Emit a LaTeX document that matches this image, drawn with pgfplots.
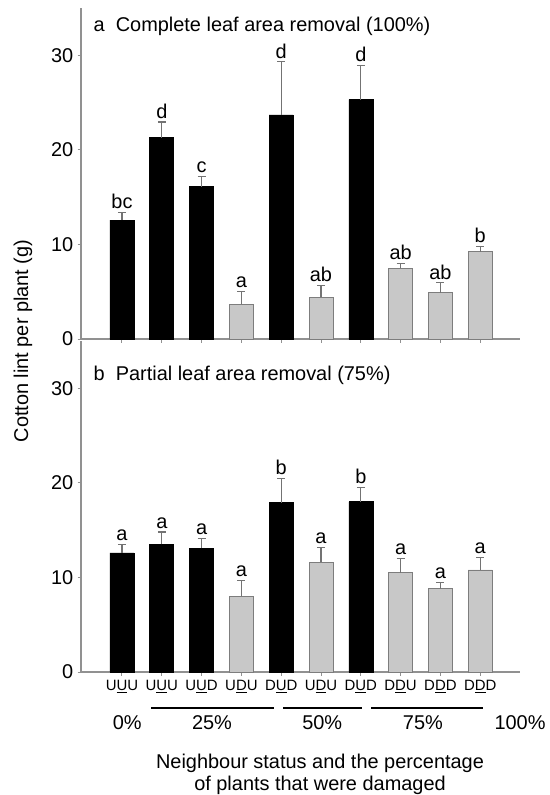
\documentclass[border=0pt]{standalone}
\usepackage{pgfplots}
\pgfplotsset{compat=1.18}
\usepackage{fontspec}
\setmainfont{Liberation Sans}
\definecolor{barg}{RGB}{200,200,200}
\definecolor{edgeg}{RGB}{125,125,125}
\definecolor{axg}{RGB}{145,145,145}
\definecolor{errg}{RGB}{115,115,115}
\newcommand{\bigf}{\fontsize{20}{24}\selectfont}
\begin{document}
\begin{tikzpicture}
\path[use as bounding box] (0bp,0bp) rectangle (550bp,-795bp);
\pgfplotsset{
  panel/.style={
    width=439bp, height=331bp, scale only axis,
    xmin=-1.03, xmax=10, ymin=0, ymax=35,
    axis lines=left, axis line style={-, axg, line width=1.3bp},
    xtick={0,...,9}, ytick={0,10,20,30},
    tick align=outside, major tick length=3.5bp,
    tick style={axg, line width=1bp},
    /pgf/number format/assume math mode=true,
    yticklabel style={font=\bigf, inner sep=1bp, xshift=-3bp},
    xticklabel style={font=\fontsize{15}{17}\selectfont, inner sep=1bp, yshift=-4bp},
    clip=false,
    ybar, bar width=24bp, bar shift=0pt,
  },
  eb/.style={error bars/.cd, y dir=plus, y explicit,
    error bar style={errg, line width=1.1bp},
    error mark options={rotate=90, errg, mark size=4bp, line width=1.1bp}},
  blk/.style={fill=black, draw=black, line width=0.6bp, eb},
  gry/.style={fill=barg, draw=edgeg, line width=0.6bp, eb},
  lab/.style={draw=none, fill=none, nodes near coords, point meta=explicit symbolic,
    every node near coord/.append style={anchor=south, font=\bigf, inner xsep=1bp, inner ysep=3.5bp}},
}
% ---------- panel a ----------
\begin{axis}[panel, at={(81bp,-339bp)}, anchor=south west, xticklabels={}]
\addplot[blk] coordinates {(0,12.57) +- (0,0.85) (1,21.3) +- (0,1.65) (2,16.1) +- (0,1.1) (4,23.7) +- (0,5.6) (6,25.3) +- (0,3.6)};
\addplot[gry] coordinates {(3,3.7) +- (0,1.3) (5,4.4) +- (0,1.25) (7,7.5) +- (0,0.5) (8,4.9) +- (0,1.03) (9,9.25) +- (0,0.53)};
\addplot[lab] coordinates {(0,13.42) [bc] (1,22.95) [d] (2,17.2) [c] (3,5.0) [a] (4,29.3) [d] (5,5.65) [ab] (6,28.9) [d] (7,8.0) [ab] (8,5.93) [ab] (9,9.78) [b]};
\node[anchor=base west, font=\bigf] at (axis cs:-0.80,32.5) {a\ \ Complete leaf area removal (100\%)};
\end{axis}
% ---------- panel b ----------
\begin{axis}[panel, at={(81bp,-672bp)}, anchor=south west,
  xticklabels={U\underline{U}U, U\underline{U}U, U\underline{U}D, U\underline{D}U, D\underline{U}D, U\underline{D}U, D\underline{U}D, D\underline{D}U, D\underline{D}D, D\underline{D}D}]
\addplot[blk] coordinates {(0,12.6) +- (0,0.85) (1,13.5) +- (0,1.3) (2,13.1) +- (0,1.05) (4,17.9) +- (0,2.6) (6,18.0) +- (0,1.5)};
\addplot[gry] coordinates {(3,8.0) +- (0,1.7) (5,11.6) +- (0,1.6) (7,10.5) +- (0,1.5) (8,8.8) +- (0,0.65) (9,10.8) +- (0,1.35)};
\addplot[lab] coordinates {(0,13.45) [a] (1,14.8) [a] (2,14.15) [a] (3,9.7) [a] (4,20.5) [b] (5,13.2) [a] (6,19.5) [b] (7,12.0) [a] (8,9.45) [a] (9,12.15) [a]};
\node[anchor=base west, font=\bigf] at (axis cs:-0.80,30.8) {b\ \ Partial leaf area removal (75\%)};
\draw[line width=1.6bp] (axis cs:0.73,-3.79) -- (axis cs:3.82,-3.79);
\draw[line width=1.3bp] (axis cs:4.05,-3.79) -- (axis cs:6.03,-3.79);
\draw[line width=1.3bp] (axis cs:6.26,-3.79) -- (axis cs:9.07,-3.79);
\node[anchor=base, font=\bigf] at (axis cs:0.13,-6.11) {0\%};
\node[anchor=base, font=\bigf] at (axis cs:2.26,-6.11) {25\%};
\node[anchor=base, font=\bigf] at (axis cs:5.03,-6.11) {50\%};
\node[anchor=base, font=\bigf] at (axis cs:7.56,-6.11) {75\%};
\node[anchor=base, font=\bigf] at (axis cs:10.0,-6.11) {100\%};
\end{axis}
\node[rotate=90, font=\bigf] at (23bp,-341bp) {Cotton lint per plant (g)};
\node[anchor=base, font=\bigf] at (320bp,-768bp) {Neighbour status and the percentage};
\node[anchor=base, font=\bigf] at (320bp,-790bp) {of plants that were damaged};
\end{tikzpicture}
\end{document}
